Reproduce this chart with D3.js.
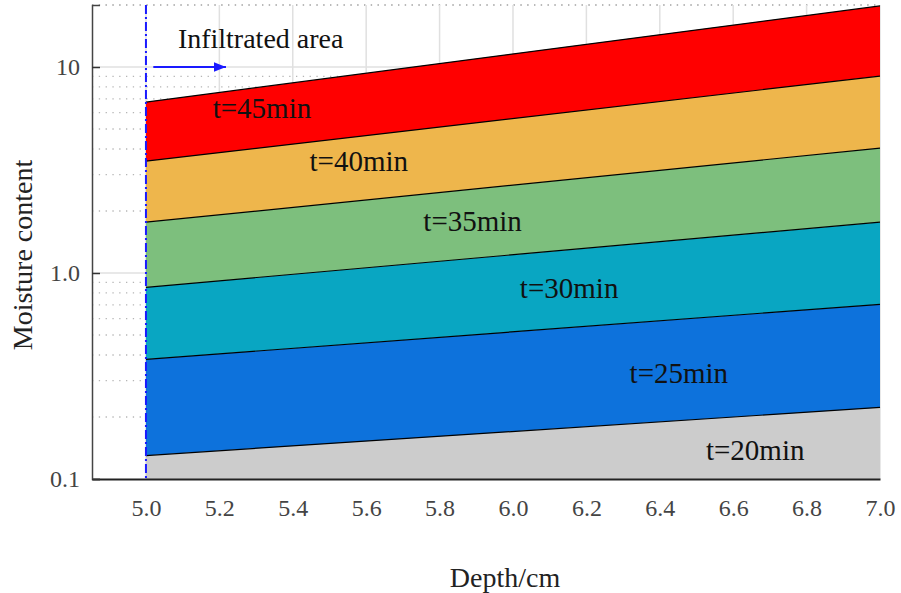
<!DOCTYPE html>
<html>
<head>
<meta charset="utf-8">
<script src="https://cdn.jsdelivr.net/npm/d3@7"></script>
<style>
  body { margin: 0; background: #fff; }
  text { font-family: "Liberation Serif", "Times New Roman", serif; }
</style>
</head>
<body>
<script>
// depth end points and boundary values (moisture at 5.0 cm and 7.0 cm)
const depths = [5.0, 7.0];
const bandLabels = ["t=20min", "t=25min", "t=30min", "t=35min", "t=40min", "t=45min"];
const lowerAt5 = [0.1, 0.130, 0.381, 0.852, 1.765, 3.49];
const lowerAt7 = [0.1, 0.2226, 0.705, 1.765, 4.04, 9.04];
const upperAt5 = [0.130, 0.381, 0.852, 1.765, 3.49, 6.76];
const upperAt7 = [0.2226, 0.705, 1.765, 4.04, 9.04, 19.8];
const bandColors = ["#cccccc", "#0d72dc", "#09a6c2", "#7dbf7d", "#eeb64c", "#ff0000"];
// label anchor (depth, moisture) for each band
const labelX = [6.66, 6.452, 6.153, 5.89, 5.58, 5.316];
const labelY = [0.1376, 0.326, 0.843, 1.785, 3.49, 6.32];
const xTicks = [5.0, 5.2, 5.4, 5.6, 5.8, 6.0, 6.2, 6.4, 6.6, 6.8, 7.0];
const yTicks = [0.1, 1, 10];

const W = 901, H = 593;
const margin = {top: 5, right: 21, bottom: 114, left: 92};
const width = W - margin.left - margin.right,
      height = H - margin.top - margin.bottom;

const svg = d3.select("body").append("svg")
    .attr("width", W)
    .attr("height", H);
const g = svg.append("g")
    .attr("transform", "translate(" + margin.left + "," + margin.top + ")");

const x = d3.scaleLinear().domain([4.853, 7.0]).range([0, width]);
const y = d3.scaleLog().domain([0.1, 20]).range([height, 0]);

// minor dotted grid
const minor = [];
[0.1, 1, 10].forEach(dec => {
  for (let k = 2; k <= 9; k++) if (dec * k <= 20) minor.push(dec * k);
});
minor.push(20);
g.selectAll(".minor").data(minor).enter().append("line")
  .attr("x1", 0).attr("x2", width)
  .attr("y1", d => y(d)).attr("y2", d => y(d))
  .attr("stroke", "#b5b5b5").attr("stroke-width", 1.3)
  .attr("stroke-dasharray", "1.3,5.5");

// major grid
g.selectAll(".vgrid").data(xTicks).enter().append("line")
  .attr("x1", d => x(d)).attr("x2", d => x(d))
  .attr("y1", 0).attr("y2", height)
  .attr("stroke", "#e0e0e0").attr("stroke-width", 1.5);
g.selectAll(".hgrid").data([1, 10]).enter().append("line")
  .attr("x1", 0).attr("x2", width)
  .attr("y1", d => y(d)).attr("y2", d => y(d))
  .attr("stroke", "#e0e0e0").attr("stroke-width", 1.5);

// bands
bandLabels.forEach((lab, i) => {
  const pts = [
    [depths[0], lowerAt5[i]], [depths[1], lowerAt7[i]],
    [depths[1], upperAt7[i]], [depths[0], upperAt5[i]]
  ];
  g.append("path")
    .attr("d", d3.line().x(d => x(d[0])).y(d => y(d[1]))(pts) + "Z")
    .attr("fill", bandColors[i]);
});
// boundary lines
bandLabels.forEach((lab, i) => {
  g.append("path")
    .attr("d", d3.line().x(d => x(d[0])).y(d => y(d[1]))([[depths[0], upperAt5[i]], [depths[1], upperAt7[i]]]))
    .attr("fill", "none").attr("stroke", "#000").attr("stroke-width", 1.2);
});
// band labels
bandLabels.forEach((lab, i) => {
  g.append("text")
    .attr("x", x(labelX[i])).attr("y", y(labelY[i]))
    .attr("text-anchor", "middle").attr("dominant-baseline", "central")
    .attr("font-size", 29).attr("fill", "#111")
    .text(lab);
});

// infiltration boundary
g.append("line")
  .attr("x1", x(5.0)).attr("x2", x(5.0))
  .attr("y1", 0).attr("y2", height)
  .attr("stroke", "#1a1aff").attr("stroke-width", 2)
  .attr("stroke-dasharray", "9,3,2,3");
svg.append("defs").append("marker")
  .attr("id", "arr").attr("viewBox", "0 0 10 10")
  .attr("refX", 10).attr("refY", 5)
  .attr("markerWidth", 6).attr("markerHeight", 6)
  .attr("markerUnits", "strokeWidth").attr("orient", "auto")
  .append("path").attr("d", "M0,1 L10,5 L0,9 Z").attr("fill", "#1a1aff");
g.append("line")
  .attr("x1", x(5.02)).attr("x2", x(5.218))
  .attr("y1", y(10)).attr("y2", y(10))
  .attr("stroke", "#1a1aff").attr("stroke-width", 2)
  .attr("marker-end", "url(#arr)");
g.append("text")
  .attr("x", x(5.087)).attr("y", y(13.8))
  .attr("dominant-baseline", "central")
  .attr("font-size", 28).attr("fill", "#111")
  .text("Infiltrated area");

// axes
const xAxis = g.append("g")
  .attr("transform", "translate(0," + height + ")")
  .call(d3.axisBottom(x).tickValues(xTicks).tickFormat(d3.format(".1f")).tickSize(0).tickPadding(20));
xAxis.select(".domain").attr("stroke", "#222").attr("stroke-width", 2);
xAxis.selectAll("text").attr("font-size", 24).attr("fill", "#444")
  .style("font-family", "'Liberation Serif', serif");

const yAxis = g.append("g")
  .call(d3.axisLeft(y).tickValues(yTicks).tickFormat(d => d === 10 ? "10" : d3.format(".1f")(d)).tickSize(-8).tickPadding(12));
yAxis.select(".domain").attr("stroke", "#444").attr("stroke-width", 1.5);
yAxis.selectAll("line").attr("stroke", "#333").attr("stroke-width", 1.5);
yAxis.selectAll("text").attr("font-size", 24).attr("fill", "#444")
  .style("font-family", "'Liberation Serif', serif");

// titles
svg.append("text")
  .attr("x", 505).attr("y", 577)
  .attr("text-anchor", "middle").attr("dominant-baseline", "central")
  .attr("font-size", 28).attr("fill", "#222")
  .text("Depth/cm");
svg.append("text")
  .attr("transform", "translate(22,255) rotate(-90)")
  .attr("text-anchor", "middle").attr("dominant-baseline", "central")
  .attr("font-size", 28).attr("fill", "#222")
  .text("Moisture content");
</script>
</body>
</html>
